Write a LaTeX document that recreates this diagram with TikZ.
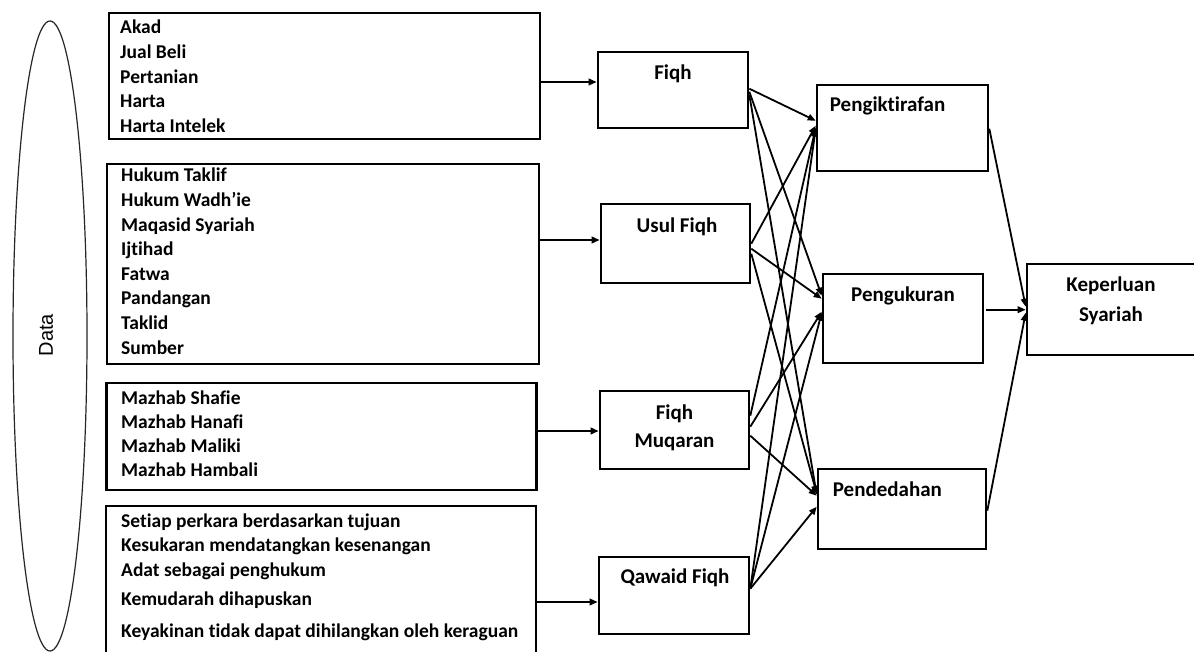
\documentclass[tikz,border=0pt]{standalone}
\usepackage{fontspec}
\setmainfont{Carlito}[Ligatures=NoCommon]
\newfontfamily\datafont{Liberation Sans}
\usetikzlibrary{arrows.meta,shapes.geometric}

\begin{document}
\begin{tikzpicture}[x=1pt,y=-1pt,
  box/.style={draw=black, line width=2.6pt, rectangle, inner sep=0pt},
  item/.style={anchor=base west, inner sep=0pt, font=\fontsize{19.5}{24}\selectfont\bfseries},
  lbl/.style={anchor=base, inner sep=0pt, font=\fontsize{21}{26}\selectfont\bfseries},
  lbll/.style={lbl, anchor=base west},
  arr/.style={line width=2pt, -{Triangle[length=8pt,width=6.5pt]}},
  link/.style={line width=1.8pt, -{Triangle[length=8pt,width=6.5pt]}},
]
\clip (0,0) rectangle (1194,652);
\fill[white] (0,0) rectangle (1194,652);

% data source ellipse
\node[draw=black!85, ellipse, line width=1.2pt, minimum width=74pt, minimum height=630pt, inner sep=0pt] (data) at (50,336) {};
\node[rotate=90, inner sep=0pt, font=\datafont\fontsize{20}{20}\selectfont] (datalbl) at (46,335) {Data};

% source lists
\node[box, minimum width=431pt, minimum height=126pt] (src1) at (324.5,76) {};
\foreach \t [count=\i] in {Akad, Jual Beli, Pertanian, Harta, Harta Intelek}
  \node[item] (s1-\i) at (120,{34+24.6*(\i-1)}) {\t};

\node[box, minimum width=432pt, minimum height=200pt] (src2) at (323,264) {};
\foreach \t [count=\i] in {Hukum Taklif, Hukum Wadh’ie, Maqasid Syariah, Ijtihad, Fatwa, Pandangan, Taklid, Sumber}
  \node[item] (s2-\i) at (121,{182+24.6*(\i-1)}) {\t};

\node[box, minimum width=430pt, minimum height=107pt] (src3) at (321.5,436.5) {};
\foreach \t [count=\i] in {Mazhab Shafie, Mazhab Hanafi, Mazhab Maliki, Mazhab Hambali}
  \node[item] (s3-\i) at (121,{404+24.3*(\i-1)}) {\t};

\node[box, minimum width=430pt, minimum height=154pt] (src4) at (321,583) {};
\foreach \t/\y [count=\i] in {Setiap perkara berdasarkan tujuan/527, Kesukaran mendatangkan kesenangan/551, Adat sebagai penghukum/576, Kemudarah dihapuskan/605, Keyakinan tidak dapat dihilangkan oleh keraguan/637}
  \node[item] (s4-\i) at (121,\y) {\t};

% disciplines
\node[box, minimum width=150pt, minimum height=76pt] (fiqh) at (673,90) {};
\node[lbl] (fiqh-t) at ([yshift=-29pt]fiqh.north) {Fiqh};

\node[box, minimum width=149pt, minimum height=79pt] (usul) at (675.5,243.5) {};
\node[lbl] (usul-t) at ([xshift=1.5pt,yshift=-30pt]usul.north) {Usul Fiqh};

\node[box, minimum width=149pt, minimum height=78pt] (muq) at (674.5,430) {};
\node[lbl] (muq-t1) at ([yshift=-30pt]muq.north) {Fiqh};
\node[lbl] (muq-t2) at ([yshift=-58pt]muq.north) {Muqaran};

\node[box, minimum width=150pt, minimum height=77pt] (qaw) at (674,595.5) {};
\node[lbl] (qaw-t) at ([xshift=1pt,yshift=-28pt]qaw.north) {Qawaid Fiqh};

% outcomes
\node[box, minimum width=171pt, minimum height=86pt] (peng) at (902.5,128) {};
\node[lbll] (peng-t) at ([xshift=14pt,yshift=-28pt]peng.north west) {Pengiktirafan};

\node[box, minimum width=160pt, minimum height=89pt] (ukur) at (903,318.5) {};
\node[lbl] (ukur-t) at ([yshift=-29pt]ukur.north) {Pengukuran};

\node[box, minimum width=168pt, minimum height=80pt] (pend) at (902,509) {};
\node[lbll] (pend-t) at ([xshift=16pt,yshift=-29pt]pend.north west) {Pendedahan};

\node[box, minimum width=175pt, minimum height=91pt] (kep) at (1114.5,309.5) {};
\node[lbl] (kep-t1) at ([xshift=-3.5pt,yshift=-29pt]kep.north) {Keperluan};
\node[lbl] (kep-t2) at ([xshift=-3.5pt,yshift=-59pt]kep.north) {Syariah};

% lists to disciplines
\draw[arr] (src1.east |- 0,82) -- (fiqh.west |- 0,82);
\draw[arr] (src2.east |- 0,240) -- (usul.west |- 0,240);
\draw[arr] (src3.east |- 0,431) -- (muq.west |- 0,431);
\draw[arr] (src4.east |- 0,602) -- (qaw.west |- 0,602);

% disciplines to outcomes
\draw[link] ([yshift=-38pt]fiqh.north east) -- ([yshift=-37pt]peng.north west);
\draw[link] ([yshift=-41pt]fiqh.north east) -- ([yshift=-23pt]ukur.north west);
\draw[link] ([yshift=-44pt]fiqh.north east) -- ([yshift=-27pt]pend.north west);

\draw[link] ([yshift=-41pt]usul.north east) -- ([yshift=-42pt]peng.north west);
\draw[link] ([yshift=-46pt]usul.north east) -- ([yshift=-26pt]ukur.north west);
\draw[link] ([yshift=-51pt]usul.north east) -- ([yshift=-26pt]pend.north west);

\draw[link] ([yshift=-26pt]muq.north east) -- ([yshift=-44pt]peng.north west);
\draw[link] ([yshift=-37pt]muq.north east) -- ([yshift=-39pt]ukur.north west);
\draw[link] ([yshift=-46pt]muq.north east) -- ([yshift=-28pt]pend.north west);

\draw[link] ([yshift=-33pt]qaw.north east) -- ([yshift=-45pt]peng.north west);
\draw[link] ([yshift=-33pt]qaw.north east) -- ([yshift=-40pt]ukur.north west);
\draw[link] ([yshift=-33pt]qaw.north east) -- ([yshift=-39pt]pend.north west);

% outcomes to requirement
\draw[link] ([yshift=-45pt]peng.north east) -- ([yshift=-44pt]kep.north west);
\draw[link] ([xshift=2pt,yshift=-37pt]ukur.north east) -- ([yshift=-47pt]kep.north west);
\draw[link] ([yshift=-43pt]pend.north east) -- ([yshift=-50pt]kep.north west);
\end{tikzpicture}
\end{document}
